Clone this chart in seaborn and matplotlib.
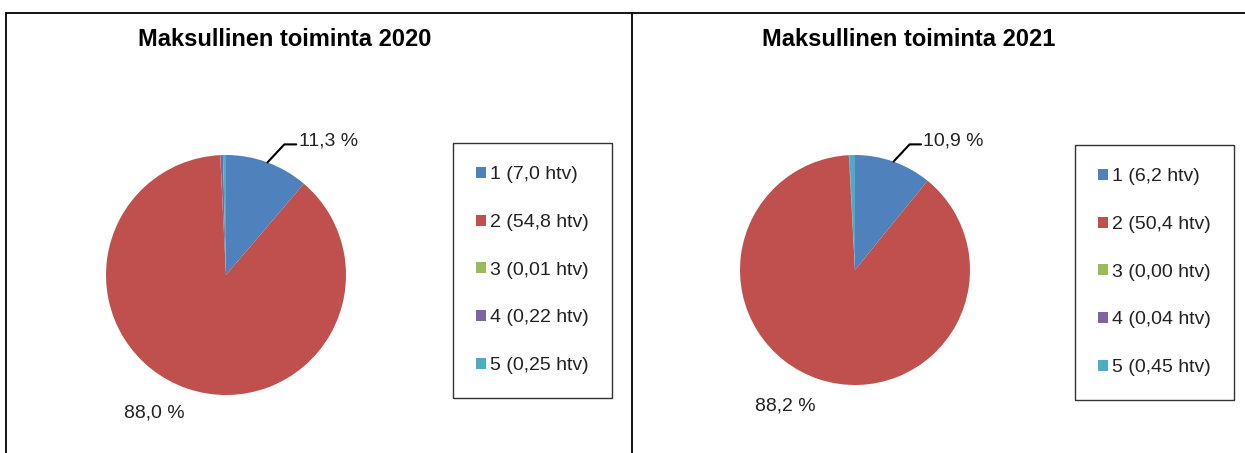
import matplotlib
matplotlib.use("Agg")
import matplotlib.pyplot as plt
import seaborn as sns
import numpy as np

# data
categories = ["1", "2", "3", "4", "5"]
htv_2020 = [7.0, 54.8, 0.01, 0.22, 0.25]
htv_2021 = [6.2, 50.4, 0.00, 0.04, 0.45]
htv_labels_2020 = ["7,0", "54,8", "0,01", "0,22", "0,25"]
htv_labels_2021 = ["6,2", "50,4", "0,00", "0,04", "0,45"]
pct_labels_2020 = ["11,3 %", "88,0 %"]
pct_labels_2021 = ["10,9 %", "88,2 %"]
titles = ["Maksullinen toiminta 2020", "Maksullinen toiminta 2021"]

sns.set_theme(style="white")
plt.rcParams['font.family'] = ['Liberation Sans', 'DejaVu Sans']
colors = ["#4F81BD", "#C0504D", "#9BBB59", "#8064A2", "#4BACC6"]

W, H = 1245, 453
fig = plt.figure(figsize=(W / 100, H / 100), dpi=100)


def fx(px):
    return px / W


def fy(py):
    return 1 - py / H


# pie placement in pixels: (center x, center y, radius)
pies = [(226, 275, 120), (855, 270, 115)]
legend_pos = [(453, 143), (1075, 145)]
title_x = [285, 909]
big_label_pos = [(-0.6, -1.15), (-0.61, -1.18)]

for i, (vals, htv_lab, pct_lab) in enumerate([(htv_2020, htv_labels_2020, pct_labels_2020),
                                                (htv_2021, htv_labels_2021, pct_labels_2021)]):
    cx, cy, r = pies[i]
    ax = fig.add_axes([fx(cx - r), fy(cy + r), fx(2 * r), (2 * r) / H])
    wedges, _ = ax.pie(vals, colors=colors, startangle=90, counterclock=False,
                       wedgeprops=dict(linewidth=0))
    ax.set_xlim(-1, 1)
    ax.set_ylim(-1, 1)
    ax.set_aspect("equal")
    ax.axis("off")

    # leader line + label for slice 1
    w = wedges[0]
    ang = np.deg2rad((w.theta1 + w.theta2) / 2)
    x0, y0 = np.cos(ang), np.sin(ang)
    ex, ey = x0 + 0.14, y0 + 0.15
    ax.plot([x0, ex, ex + 0.1], [y0, ey, ey], color="black", lw=1.5, clip_on=False)
    ax.text(ex + 0.12, ey + 0.03, pct_lab[0], fontsize=14, ha="left", va="center",
            color="#222222")
    bx, by = big_label_pos[i]
    ax.text(bx, by, pct_lab[1], fontsize=14, ha="center", va="center", color="#222222")

    fig.text(fx(title_x[i]), fy(40), titles[i], fontsize=17, fontweight="bold",
             ha="center", va="center", color="black")

    labels = [f"{c} ({h} htv)" for c, h in zip(categories, htv_lab)]
    lx0, ly0 = legend_pos[i]
    leg = fig.legend(wedges, labels, loc="upper left",
                     bbox_to_anchor=(fx(lx0), fy(ly0)), bbox_transform=fig.transFigure,
                     borderaxespad=0, fontsize=14, frameon=True, fancybox=False,
                     edgecolor="black", handlelength=0.5, handleheight=0.5,
                     handletextpad=0.2, labelspacing=1.58, borderpad=1.2)
    leg.get_frame().set_linewidth(1.0)
    for t in leg.get_texts():
        t.set_color("#222222")

# panel borders
fig.add_artist(plt.Line2D([fx(6), fx(W)], [fy(12.5), fy(12.5)], color="black", lw=1.3))
fig.add_artist(plt.Line2D([fx(6), fx(6)], [fy(12.5), 0], color="black", lw=1.3))
fig.add_artist(plt.Line2D([fx(631.5), fx(631.5)], [fy(12.5), 0], color="black", lw=1.3))

fig.savefig("out.png", dpi=100, facecolor="white")
